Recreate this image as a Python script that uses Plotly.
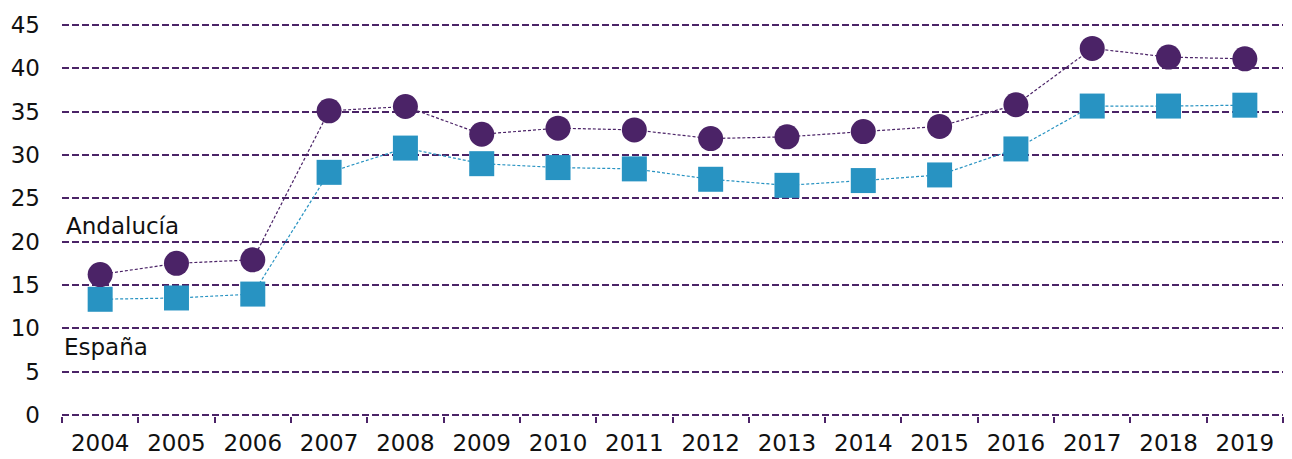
import plotly.graph_objects as go

years = [str(y) for y in range(2004, 2020)]
andalucia = [16.2, 17.5, 17.9, 35.1, 35.6, 32.4, 33.1, 32.9, 31.9, 32.1, 32.7, 33.3, 35.8, 42.3, 41.3, 41.1]
espana = [13.35, 13.5, 13.95, 28.0, 30.8, 29.0, 28.55, 28.4, 27.2, 26.5, 27.05, 27.7, 30.7, 35.65, 35.65, 35.75]
y_ticks = [0, 5, 10, 15, 20, 25, 30, 35, 40, 45]

PURPLE = "#4B2367"
BLUE = "#2893C2"
FONT = "DejaVu Sans"
TXT = "#111111"
FS = 23

fig = go.Figure()
fig.add_trace(go.Scatter(
    x=years, y=espana, mode="lines+markers", name="España",
    line=dict(color=BLUE, width=1.2, dash="3px,2px"),
    marker=dict(symbol="square", size=25, color=BLUE, line=dict(width=0)),
))
fig.add_trace(go.Scatter(
    x=years, y=andalucia, mode="lines+markers", name="Andalucía",
    line=dict(color=PURPLE, width=1.2, dash="3px,2px"),
    marker=dict(symbol="circle", size=25, color=PURPLE, line=dict(width=0)),
))

fig.add_annotation(text="Andalucía", xref="paper", yref="y", x=0, y=21.8,
                   xanchor="left", yanchor="middle", xshift=2, showarrow=False,
                   font=dict(family=FONT, size=FS, color=TXT))
fig.add_annotation(text="España", xref="paper", yref="y", x=0, y=7.8,
                   xanchor="left", yanchor="middle", xshift=0, showarrow=False,
                   font=dict(family=FONT, size=FS, color=TXT))

fig.update_layout(
    width=1292, height=459,
    margin=dict(l=54, r=17, t=16, b=51),
    plot_bgcolor="white", paper_bgcolor="white",
    showlegend=False,
    font=dict(family=FONT, size=FS, color=TXT),
)
fig.update_xaxes(
    type="category", range=[-0.5, 15.5], showgrid=False, zeroline=False, showline=False,
    automargin=False,
    ticks="outside", tickson="boundaries", ticklen=6, tickwidth=2, tickcolor=PURPLE,
    tickfont=dict(family=FONT, size=FS, color=TXT), ticklabelstandoff=11,
)
fig.update_yaxes(
    range=[-0.12, 45.12], tickvals=y_ticks, showgrid=True, gridcolor=PURPLE, gridwidth=2,
    griddash="7px,3px", zeroline=False, showline=False, ticks="", automargin=False,
    tickfont=dict(family=FONT, size=FS, color=TXT), ticklabelstandoff=21,
)

fig.write_html("out.html")
